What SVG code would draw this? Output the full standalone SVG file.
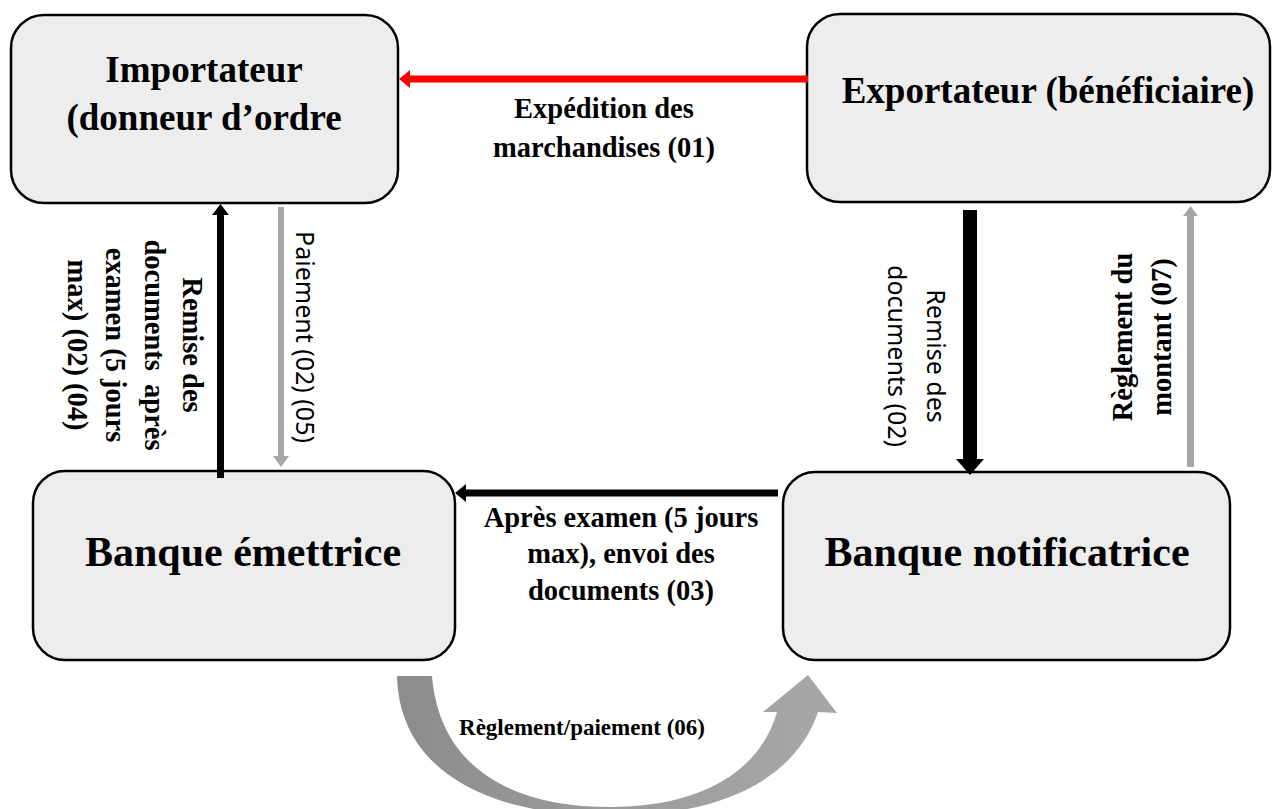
<svg xmlns="http://www.w3.org/2000/svg" width="1280" height="809" viewBox="0 0 1280 809">
<style>
.box{fill:#ededed;stroke:#000;stroke-width:2.5}
.t{font-family:"Liberation Serif","Times New Roman",serif;font-weight:bold;fill:#000;text-anchor:middle}
.s{font-family:"Noto Sans","Open Sans",sans-serif;fill:#000;text-anchor:middle;font-size:25px}
.n1{font-size:37px}
.n2{font-size:42px}
.lb{font-size:28.5px}
</style>
<defs>
<linearGradient id="g6" x1="397" y1="0" x2="837" y2="0" gradientUnits="userSpaceOnUse">
<stop offset="0" stop-color="#8c8c8c"/>
<stop offset="0.5" stop-color="#9c9c9c"/>
<stop offset="1" stop-color="#a8a8a8"/>
</linearGradient>
</defs>
<rect width="1280" height="809" fill="#fff"/>
<g id="importateur">
<rect class="box" x="11" y="15" width="387" height="188" rx="33"/>
<text class="t n1" x="204" y="82">Importateur</text>
<text class="t n1" x="204" y="130">(donneur d’ordre</text>
</g>
<g id="exportateur">
<rect class="box" x="807" y="14" width="463" height="188" rx="33"/>
<text class="t n1" x="1048" y="103">Exportateur (bénéficiaire)</text>
</g>
<g id="banque-emettrice">
<rect class="box" x="33" y="471" width="422" height="189" rx="32"/>
<text class="t n2" x="243" y="566">Banque émettrice</text>
</g>
<g id="banque-notificatrice">
<rect class="box" x="783" y="472" width="447" height="188" rx="32"/>
<text class="t n2" x="1007" y="566">Banque notificatrice</text>
</g>
<g id="connectors">
<line x1="808" y1="79" x2="407" y2="79" stroke="#ff0000" stroke-width="7"/>
<polygon points="399,79 410,70 410,88" fill="#ff0000"/>
<line x1="778" y1="493" x2="463" y2="493" stroke="#000" stroke-width="7"/>
<polygon points="455,493 466,484 466,502" fill="#000"/>
<line x1="220.5" y1="478" x2="220.5" y2="213" stroke="#000" stroke-width="7"/>
<polygon points="220.5,204 212,215 229,215" fill="#000"/>
<line x1="281" y1="207" x2="281" y2="458" stroke="#a6a6a6" stroke-width="6"/>
<polygon points="281,467 273,456 289,456" fill="#a6a6a6"/>
<line x1="970" y1="210" x2="970" y2="461" stroke="#000" stroke-width="14"/>
<polygon points="956,459 984,459 970,475" fill="#000"/>
<line x1="1190.5" y1="467" x2="1190.5" y2="214" stroke="#a6a6a6" stroke-width="7"/>
<polygon points="1190.5,206 1183,216 1198,216" fill="#a6a6a6"/>
<path d="M397,676 C399,760 470,815 610,816 C720,816 795,780 818,712 L837,713 L808,675 L763,712 L777,712 C760,772 700,807 610,807 C515,807 440,770 432,676 Z" fill="url(#g6)"/>
</g>
<g id="labels">
<text class="t lb" x="604" y="118">Expédition des</text>
<text class="t lb" x="604" y="157">marchandises (01)</text>
<text class="t lb" x="621" y="527">Après examen (5 jours</text>
<text class="t lb" x="621" y="563">max), envoi des</text>
<text class="t lb" x="621" y="600">documents (03)</text>
<text class="t" style="font-size:23px" x="582" y="735">Règlement/paiement (06)</text>
<g transform="translate(183,345) rotate(90)">
<text class="t lb" x="0" y="0">Remise des</text>
<text class="t lb" x="0" y="38" word-spacing="6">documents après</text>
<text class="t lb" x="0" y="77">examen (5 jours</text>
<text class="t lb" x="0" y="115">max) (02) (04)</text>
</g>
<g transform="translate(296,337) rotate(90)">
<text class="s" x="0" y="0">Paiement (02) (05)</text>
</g>
<g transform="translate(927,356) rotate(90)">
<text class="s" x="0" y="0">Remise des</text>
<text class="s" x="0" y="39">documents (02)</text>
</g>
<g transform="translate(1132,337) rotate(-90)">
<text class="t lb" x="0" y="0">Règlement du</text>
<text class="t lb" x="0" y="39">montant (07)</text>
</g>
</g>
</svg>
